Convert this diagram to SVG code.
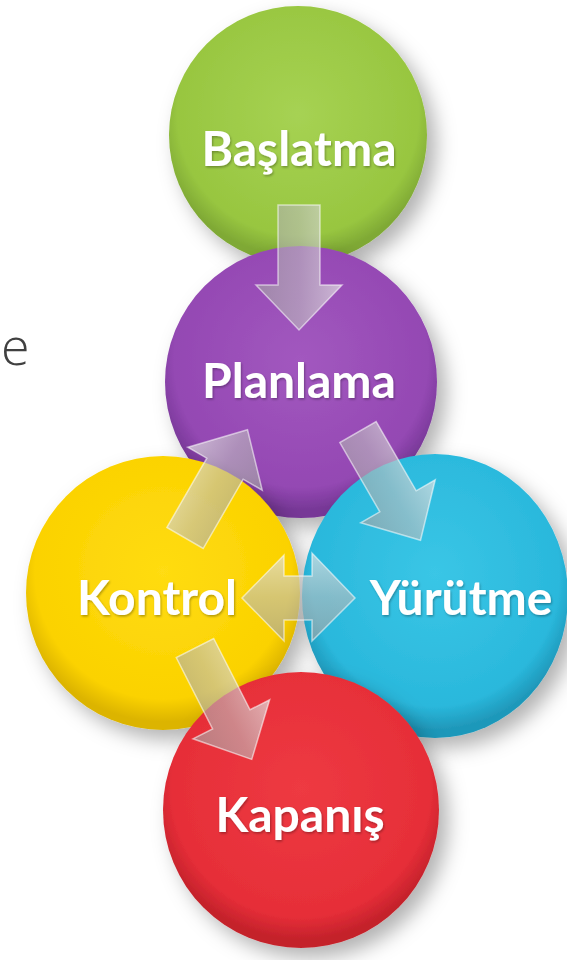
<svg xmlns="http://www.w3.org/2000/svg" width="567" height="960" viewBox="0 0 567 960">
<defs>
<style>
.lbl{font-family:Lato,"Open Sans","Liberation Sans",sans-serif;font-weight:700;font-size:48px;fill:#ffffff;text-anchor:middle;filter:url(#ts)}
.arr{fill:url(#ag);stroke:rgba(255,255,255,0.55);stroke-width:1.5;stroke-linejoin:miter}
.circ{filter:url(#ds)}
</style>
<filter id="ds" x="-30%" y="-30%" width="170%" height="170%">
<feDropShadow dx="9" dy="10" stdDeviation="10" flood-color="#000" flood-opacity="0.3"/>
</filter>
<filter id="ts" x="-10%" y="-20%" width="120%" height="150%">
<feDropShadow dx="1" dy="1.5" stdDeviation="1" flood-color="#000" flood-opacity="0.3"/>
</filter>
<radialGradient id="gG" cx="50%" cy="42%" r="55%"><stop offset="0" stop-color="#a6d253"/><stop offset="0.85" stop-color="#98c640"/><stop offset="1" stop-color="#7fa935"/></radialGradient>
<radialGradient id="gP" cx="50%" cy="42%" r="55%"><stop offset="0" stop-color="#a258bf"/><stop offset="0.85" stop-color="#9448b3"/><stop offset="1" stop-color="#773897"/></radialGradient>
<radialGradient id="gY" cx="50%" cy="42%" r="55%"><stop offset="0" stop-color="#ffdc12"/><stop offset="0.85" stop-color="#fbd200"/><stop offset="1" stop-color="#dcb400"/></radialGradient>
<radialGradient id="gC" cx="50%" cy="42%" r="55%"><stop offset="0" stop-color="#3ac6e6"/><stop offset="0.85" stop-color="#2ab8dc"/><stop offset="1" stop-color="#1f98ba"/></radialGradient>
<radialGradient id="gR" cx="50%" cy="42%" r="55%"><stop offset="0" stop-color="#ee3a42"/><stop offset="0.85" stop-color="#e62e38"/><stop offset="1" stop-color="#c4222b"/></radialGradient>
<linearGradient id="ag" x1="0" y1="0" x2="0" y2="1"><stop offset="0" stop-color="#e4e4e4" stop-opacity="0.7"/><stop offset="0.5" stop-color="#bdbdbd" stop-opacity="0.6"/><stop offset="1" stop-color="#a2a2a2" stop-opacity="0.65"/></linearGradient>
<path id="ar" d="M0,-21 L80,-21 L80,-43 L125,0 L80,43 L80,21 L0,21 Z"/>
</defs>
<rect width="567" height="960" fill="#ffffff"/>
<text x="1" y="365" font-family="'Open Sans','Liberation Sans',sans-serif" font-size="52" font-weight="300" fill="#404040">e</text>
<g id="node-baslatma">
<circle class="circ" cx="298" cy="135" r="129" fill="url(#gG)"/>
<text class="lbl" x="299" y="166">Başlatma</text>
</g>
<g id="node-planlama">
<circle class="circ" cx="301" cy="382" r="136" fill="url(#gP)"/>
<text class="lbl" x="299" y="398">Planlama</text>
</g>
<g id="node-kontrol">
<circle class="circ" cx="163" cy="593" r="137" fill="url(#gY)"/>
<text class="lbl" x="157" y="615">Kontrol</text>
</g>
<g id="node-yurutme">
<ellipse class="circ" cx="435" cy="596" rx="133" ry="142" fill="url(#gC)"/>
<text class="lbl" x="461" y="615">Yürütme</text>
</g>
<g id="node-kapanis">
<circle class="circ" cx="301" cy="810" r="138" fill="url(#gR)"/>
<text class="lbl" x="300" y="832">Kapanış</text>
</g>
<g id="connectors">
<use href="#ar" class="arr" transform="translate(299,205) rotate(90)"/>
<use href="#ar" class="arr" transform="translate(185,538) rotate(-60)"/>
<use href="#ar" class="arr" transform="translate(358,432) rotate(60)"/>
<path class="arr" d="M242,598 L284,555 L284,576 L312,576 L312,553 L355,598 L312,641 L312,620 L284,620 L284,641 Z"/>
<use href="#ar" class="arr" transform="translate(195,648) rotate(63)"/>
</g>
</svg>
